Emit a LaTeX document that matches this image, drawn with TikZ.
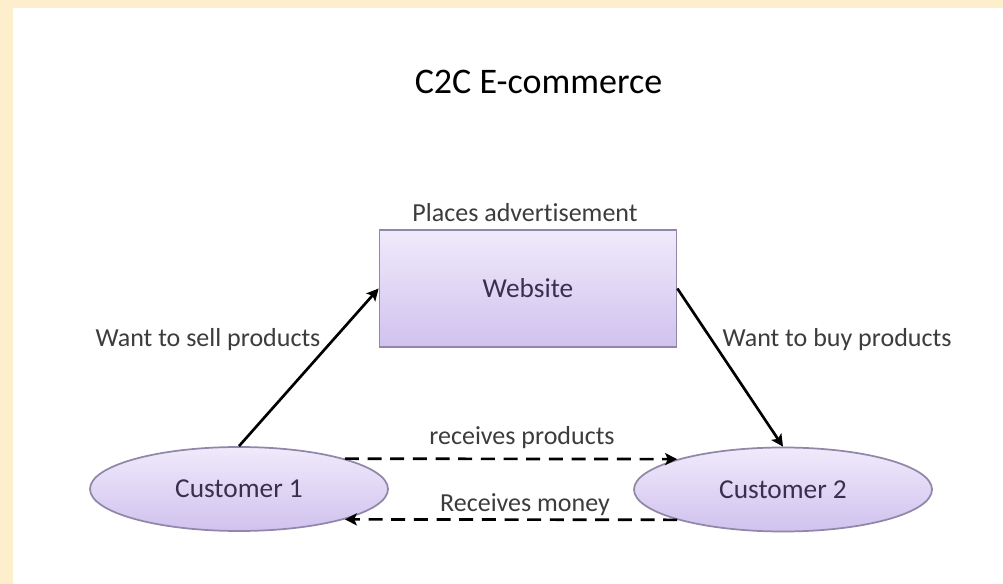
\documentclass[tikz,border=0pt]{standalone}
\usepackage{fontspec}
\setmainfont{Carlito}[Ligatures=NoCommon]
\usepackage{tikz}
\usetikzlibrary{shapes.geometric,arrows.meta}

\definecolor{pageband}{RGB}{253,238,204}
\definecolor{labelgray}{RGB}{60,60,60}
\definecolor{boxtext}{RGB}{58,48,78}
\definecolor{boxtop}{RGB}{240,234,251}
\definecolor{boxbottom}{RGB}{208,194,238}
\definecolor{boxline}{RGB}{145,135,168}

\tikzset{
  boxnode/.style={draw=boxline, line width=1.3pt, top color=boxtop, bottom color=boxbottom, text=boxtext, font=\fontsize{20.5}{24}\selectfont},
  sitebox/.style={boxnode, rectangle, minimum width=222.75pt, minimum height=87.75pt},
  custnode/.style={boxnode, ellipse, minimum width=223.5pt, minimum height=63pt},
  flowlabel/.style={text=labelgray, font=\fontsize{19.5}{23}\selectfont, inner sep=0.75pt},
  solidflow/.style={line width=2pt, -{Stealth[length=9pt,width=9pt,inset=2pt]}},
  dashflow/.style={line width=2pt, dash pattern={on 10.5pt off 6.5pt}, -{Stealth[length=9pt,width=9pt,inset=2pt]}}
}

\begin{document}
\begin{tikzpicture}[x=0.75pt,y=0.75pt,yscale=-1,xscale=1]
\useasboundingbox (0,0) rectangle (1003,584);

%Shape: Rectangle [page band]
\fill [pageband] (0,0) rectangle (1003,584);
\fill [white] (13,8) rectangle (1003,584);

% Text Node
\node (title) at (538.5,82) [font=\fontsize{27}{32}\selectfont, text=black] {C2C E-commerce};

%Shape: Rectangle [website]
\node (web) at (528,288.5) [sitebox] {Website};
%Shape: Ellipse [customer 1]
\node (cust1) at (239,489) [custnode] {Customer 1};
%Shape: Ellipse [customer 2]
\node (cust2) at (783,489.5) [custnode] {Customer 2};

%Straight Lines [sell]
\draw [solidflow] (cust1.north) -- (web.west);
%Straight Lines [buy]
\draw [solidflow] (web.east) -- (cust2.north);
%Straight Lines [products]
\draw [dashflow] (cust1.16) -- (cust2.164);
%Straight Lines [money]
\draw [dashflow] (cust2.196) -- (cust1.-16);

% Text Node
\node (advert) at (525,213) [flowlabel] {Places advertisement};
% Text Node
\node (sell) at (208,340) [flowlabel] {Want to sell products};
% Text Node
\node (buy) at (837,340) [flowlabel] {Want to buy products};
% Text Node
\node (getprod) at (522,438) [flowlabel] {receives products};
% Text Node
\node (getmoney) at (525,505) [flowlabel] {Receives money};
\end{tikzpicture}
\end{document}
